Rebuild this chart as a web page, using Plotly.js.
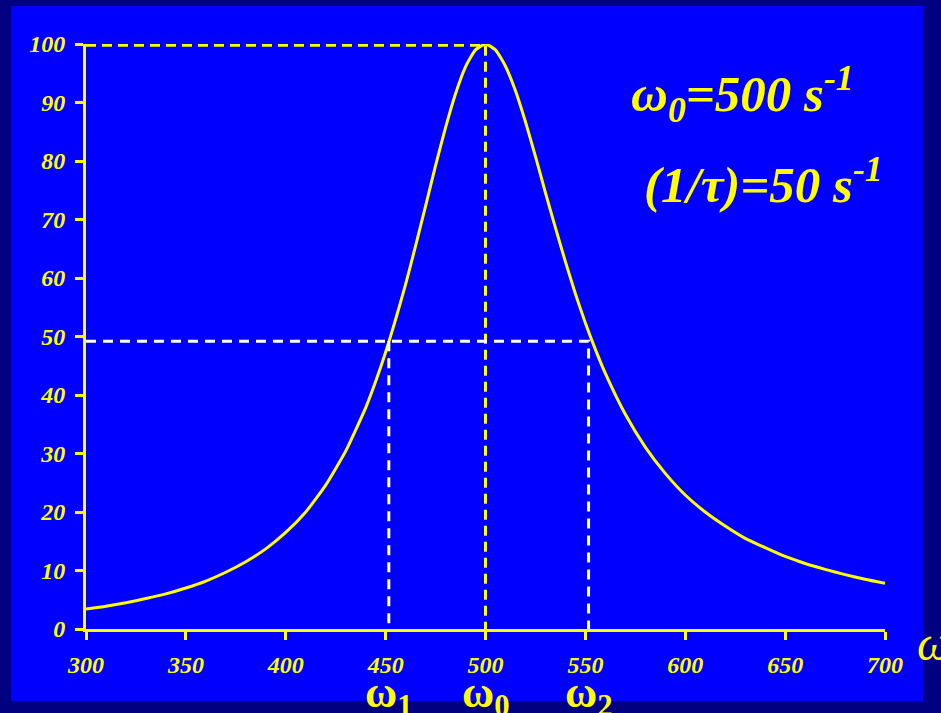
<!DOCTYPE html>
<html>
<head>
<meta charset="utf-8">
<script src="https://cdn.plot.ly/plotly-3.0.1.min.js"></script>
<style>html,body{margin:0;padding:0;background:#000080;}#chart{width:941px;height:713px;}</style>
</head>
<body>
<div id="chart"></div>
<script>
// Resonance curve values
const omega = [300,310,320,330,340,350,360,370,380,390,400,410,420,430,440,445,450,455,460,465,470,475,480,485,490,495,500,505,510,515,520,525,530,535,540,545,550,555,560,570,580,590,600,610,620,630,640,650,660,670,680,690,700];
const power = [3.4,3.9,4.5,5.2,6.0,7.0,8.2,9.7,11.5,13.7,16.5,20.0,24.6,30.4,37.8,42.3,47.3,52.9,58.9,65.5,72.3,79.2,85.7,91.5,96.1,99.0,100,99.0,96.2,92.0,86.7,80.8,74.6,68.6,62.8,57.3,52.3,47.8,43.7,36.7,31.1,26.6,22.9,20.0,17.6,15.5,13.9,12.4,11.2,10.2,9.3,8.5,7.8];

// Guide lines (peak and half-power)
const peakX = [300,500,500];
const peakY = [99.8,99.8,0];
const halfX = [300,551.6,551.6];
const halfY = [49.2,49.2,0];
const w1X = [451.6,451.6];
const w1Y = [49.2,0];

const xTicks = [300,350,400,450,500,550,600,650,700];
const yTicks = [0,10,20,30,40,50,60,70,80,90,100];

const bottomLabels = ['ω<sub>1</sub>','ω<sub>0</sub>','ω<sub>2</sub>'];
const bottomLabelX = [451.6,500,551.6];

const YEL = '#FFFF00';
const tickFont = {family:'Liberation Serif, Times New Roman, serif', size:24, color:YEL, weight:'bold', style:'italic'};

const traces = [
  {x:omega, y:power, type:'scatter', mode:'lines', cliponaxis:false, line:{color:YEL, width:3, shape:'spline', smoothing:0.5}, hoverinfo:'skip'},
  {x:peakX, y:peakY, type:'scatter', mode:'lines', cliponaxis:false, line:{color:YEL, width:3, dash:'10px,6px'}, hoverinfo:'skip'},
  {x:halfX, y:halfY, type:'scatter', mode:'lines', cliponaxis:false, line:{color:'#FFFFFF', width:3, dash:'10px,7px'}, hoverinfo:'skip'},
  {x:w1X, y:w1Y, type:'scatter', mode:'lines', cliponaxis:false, line:{color:'#FFFFFF', width:3, dash:'10px,7px'}, hoverinfo:'skip'}
];

const bigFont = {family:'Liberation Serif, serif', size:51, color:YEL, weight:'bold', style:'italic'};
const annotations = [
  {xref:'x', yref:'y', x:572, y:91.5, xanchor:'left', yanchor:'middle', showarrow:false,
   text:'ω<sub>0</sub>=500 s<sup>-1</sup>', font:bigFont},
  {xref:'x', yref:'y', x:578.5, y:76.6, xanchor:'left', yanchor:'middle', showarrow:false,
   text:'(1/τ)=50 s<sup>-1</sup>', font:bigFont},
  {xref:'paper', yref:'paper', x:1.038, y:-0.025, xanchor:'left', yanchor:'middle', showarrow:false,
   text:'ω', font:{family:'Liberation Serif, serif', size:48, color:YEL, style:'italic'}}
];
bottomLabels.forEach((t,i)=>{
  annotations.push({xref:'x', yref:'paper', x:bottomLabelX[i], y:-0.113, xanchor:'center', yanchor:'middle', showarrow:false,
    text:t, font:{family:'Liberation Serif, serif', size:44, color:YEL, weight:'bold'}});
});

const layout = {
  width:941, height:713,
  margin:{l:86, r:56, t:44, b:84, pad:0},
  paper_bgcolor:'#000080',
  plot_bgcolor:'#0000FF',
  showlegend:false,
  shapes:[{type:'rect', xref:'paper', yref:'paper', x0:-0.09387, x1:1.04756, y0:-0.12308, y1:1.06496,
           fillcolor:'#0000FF', line:{width:0}, layer:'below'}],
  xaxis:{range:[300,700], tickvals:xTicks, ticktext:xTicks.map(String), showgrid:false, zeroline:false,
         showline:true, linecolor:YEL, linewidth:3, ticks:'outside', ticklen:8, tickwidth:3, tickcolor:YEL,
         tickfont:tickFont, ticklabelstandoff:4, fixedrange:true},
  yaxis:{range:[0,100], tickvals:yTicks, ticktext:yTicks.map(String), showgrid:false, zeroline:false,
         showline:true, linecolor:YEL, linewidth:3, ticks:'outside', ticklen:8, tickwidth:3, tickcolor:YEL,
         tickfont:tickFont, ticklabelstandoff:5, fixedrange:true},
  annotations:annotations
};

Plotly.newPlot('chart', traces, layout, {displayModeBar:false, staticPlot:true});
</script>
</body>
</html>
